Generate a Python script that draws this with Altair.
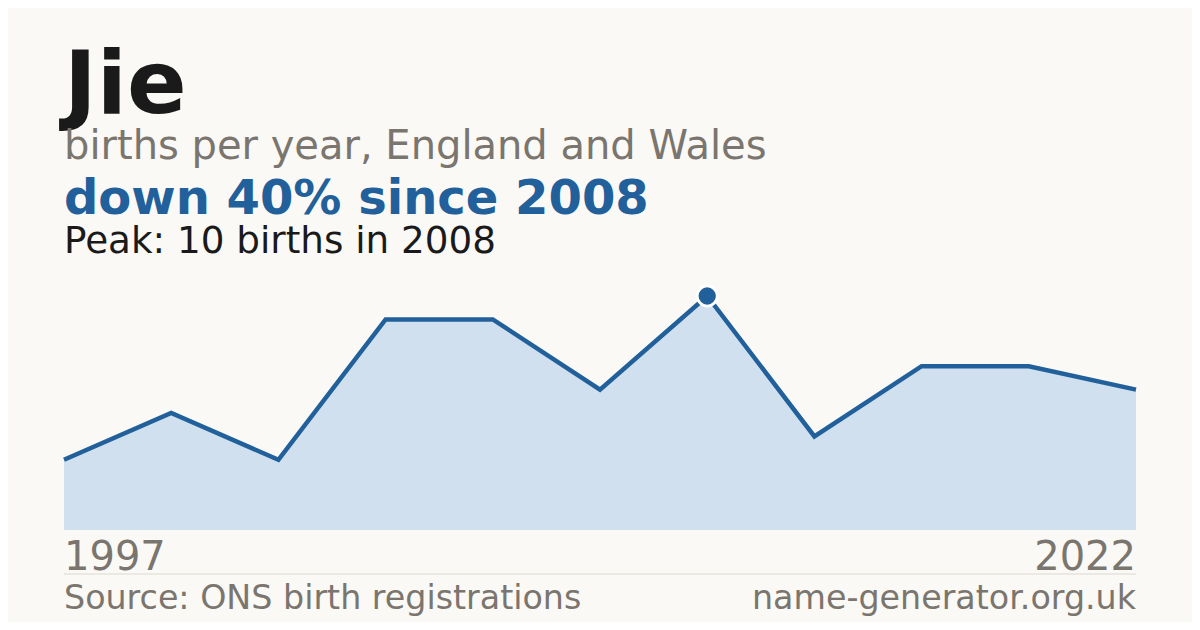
import altair as alt
import pandas as pd

# ---- data ----
name = "Jie"
subtitle = "births per year, England and Wales"
years = [1997, 1999, 2001, 2003, 2005, 2006, 2008, 2012, 2016, 2019, 2022]
births = [3, 5, 3, 9, 9, 6, 10, 4, 7, 7, 6]
source_text = "Source: ONS birth registrations"
site_text = "name-generator.org.uk"

df = pd.DataFrame({"i": list(range(len(years))), "year": years, "births": births})
peak_i = births.index(max(births))
peak_val = births[peak_i]
peak_year = years[peak_i]
change = round((peak_val - births[-1]) / peak_val * 100)
headline = f"down {change}% since {peak_year}"
peak_line = f"Peak: {peak_val} births in {peak_year}"

# ---- style ----
BG = "#FAF9F5"
BLUE = "#21609A"
FILL = "#D0E0EF"
GRAY = "#7A756E"
DARK = "#1A1A1A"
FONT = "DejaVu Sans"

x_scale = alt.Scale(domain=[0, len(years) - 1], range=[56, 1128], nice=False, zero=False)
y_scale = alt.Scale(domain=[0, peak_val], range=[522, 288], nice=False, zero=True)

X = alt.X("i:Q", scale=x_scale, axis=None)
Y = alt.Y("births:Q", scale=y_scale, axis=None)

base = alt.Chart(df)
area = base.mark_area(color=FILL, opacity=1).encode(x=X, y=Y)
line = base.mark_line(color=BLUE, strokeWidth=4.5).encode(x=X, y=Y)
peak_df = df[df["i"] == peak_i]
peak_halo = alt.Chart(peak_df).mark_circle(
    size=520, color="#FFFFFF", opacity=1
).encode(x=X, y=Y)
peak = alt.Chart(peak_df).mark_circle(
    size=300, color=BLUE, opacity=1
).encode(x=X, y=Y)

first_lbl = alt.Chart(df.iloc[[0]]).mark_text(
    align="left", baseline="alphabetic", fontSize=40, color=GRAY, font=FONT
).encode(x=X, y=alt.value(562), text=alt.Text("year:Q", format="d"))
last_lbl = alt.Chart(df.iloc[[-1]]).mark_text(
    align="right", baseline="alphabetic", fontSize=40, color=GRAY, font=FONT
).encode(x=X, y=alt.value(562), text=alt.Text("year:Q", format="d"))

rule_df = pd.DataFrame({"a": [0], "b": [len(years) - 1]})
rule = alt.Chart(rule_df).mark_rule(color="#DDD9D1", strokeWidth=1).encode(
    x=alt.X("a:Q", scale=x_scale, axis=None), x2="b:Q", y=alt.value(566)
)


def txt(s, y, size, color, weight="normal", align="left", x=56):
    return alt.Chart(pd.DataFrame({"t": [s]})).mark_text(
        align=align, baseline="alphabetic", fontSize=size, color=color,
        fontWeight=weight, font=FONT
    ).encode(x=alt.value(x), y=alt.value(y), text="t:N")


t_name = txt(name, 105, 88, DARK, "bold")
t_sub = txt(subtitle, 151, 40, GRAY)
t_head = txt(headline, 206, 48, BLUE, "bold")
t_peak = txt(peak_line, 245, 37.3, DARK)
t_src = txt(source_text, 601, 33.3, GRAY)
t_site = txt(site_text, 601, 33.3, GRAY, align="right", x=1128)

chart = alt.layer(
    area, line, peak_halo, peak, first_lbl, last_lbl, rule,
    t_name, t_sub, t_head, t_peak, t_src, t_site
).properties(
    width=1184, height=614, background=BG,
    autosize=alt.AutoSizeParams(type="none"), padding=0
).configure_view(stroke=None)

chart.save("out.html", embed_options={"renderer": "svg", "actions": False})
